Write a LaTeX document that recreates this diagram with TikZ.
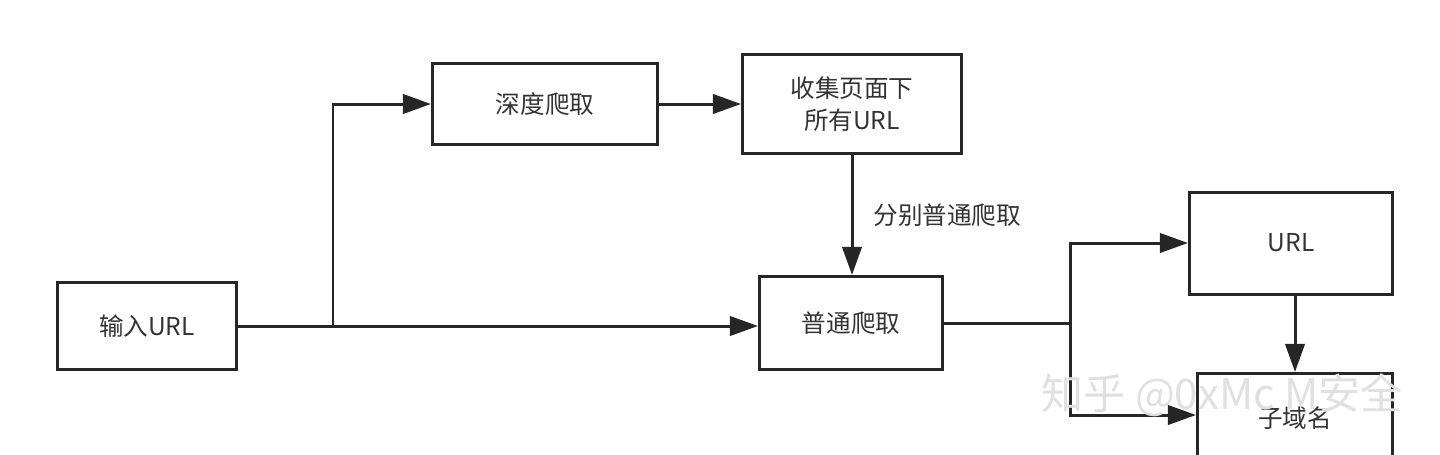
\documentclass[tikz,border=0pt]{standalone}
\usepackage{fontspec}
\setmainfont{Noto Sans CJK SC}
\usetikzlibrary{arrows.meta}
\begin{document}
\begin{tikzpicture}[x=0.02cm,y=-0.02cm,
  box/.style={draw=black!85,line width=1.7pt,rectangle,inner sep=0pt,font=\fontsize{14}{18}\selectfont,text=black!80,align=center},
  ar/.style={draw=black!85,line width=1.7pt,-{Triangle[length=16pt,width=11pt]}},
  ln/.style={draw=black!85,line width=1.7pt}]
\useasboundingbox (0,0) rectangle (1440,454);
\begin{scope}
\clip (0,0) rectangle (1440,454);
\node[box,minimum width=179*0.02cm,minimum height=87*0.02cm] (in) at (147,326) {输入URL};
\node[box,minimum width=225*0.02cm,minimum height=81*0.02cm] (deep) at (545,104) {深度爬取};
\node[box,minimum width=219*0.02cm,minimum height=99*0.02cm] (col) at (852,104) {收集页面下\\所有URL};
\node[box,minimum width=183*0.02cm,minimum height=93*0.02cm] (nor) at (851,323) {普通爬取};
\node[box,minimum width=203*0.02cm,minimum height=102*0.02cm] (url) at (1291,243) {URL};
\node[box,minimum width=195*0.02cm,minimum height=100*0.02cm,anchor=north] (sub) at (1295,372) {};
\node[font=\fontsize{14}{18}\selectfont,text=black!80] (subt) at (1295,418) {子域名};
\coordinate (j1) at (333,326);
\coordinate (j2) at (1070,323);
\draw[ar] (in.east |- j1) -- (nor.west |- j1);
\draw[ar] (j1) |- (deep.west);
\draw[ar] (deep.east) -- (col.west |- deep.east);
\draw[ar] (col.south) -- node[right=8pt,font=\fontsize{14}{18}\selectfont,text=black!80]{分别普通爬取} (col.south |- nor.north);
\draw[ln] (nor.east |- j2) -- (j2);
\draw[ar] (j2) |- (url.west);
\draw[ar] (j2) |- (sub.west |- 0,415);
\draw[ar] (url.south -| 1295,0) -- (sub.north);
\node[font=\fontsize{24}{28}\selectfont,text=black!12,anchor=west] (wm) at (1035,395) {知乎 @0xMc M安全};
\end{scope}
\end{tikzpicture}
\end{document}
